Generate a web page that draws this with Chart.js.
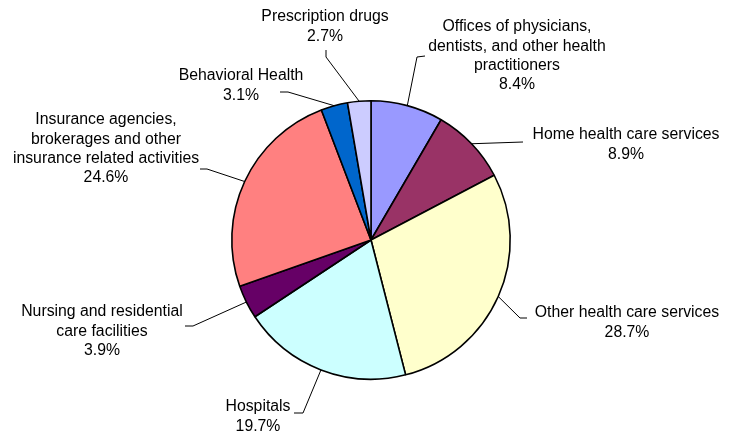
<!DOCTYPE html>
<html>
<head>
<meta charset="utf-8">
<script src="https://cdn.jsdelivr.net/npm/chart.js@4/dist/chart.umd.min.js"></script>
<style>
  html, body { margin: 0; padding: 0; background: #fff; }
  #wrap { width: 733px; height: 437px; }
</style>
</head>
<body>
<div id="wrap"><canvas id="spendPie" width="733" height="437"></canvas></div>
<script>
const categories = [
  ["Offices of physicians,", "dentists, and other health", "practitioners"],
  ["Home health care services"],
  ["Other health care services"],
  ["Hospitals"],
  ["Nursing and residential", "care facilities"],
  ["Insurance agencies,", "brokerages and other", "insurance related activities"],
  ["Behavioral Health"],
  ["Prescription drugs"],
];
const shares = [8.4, 8.9, 28.7, 19.7, 3.9, 24.6, 3.1, 2.7];
const sliceColors = ["#9999ff", "#993366", "#ffffcc", "#ccffff", "#660066", "#ff8080", "#0066cc", "#ccccff"];

// where each label block sits (center x, first line y) and the elbow of its leader
const labelSpots = [
  { x: 517, y: 27, elbow: [[425, 56], [417, 57]] },
  { x: 626, y: 135, elbow: [[523, 142]] },
  { x: 627, y: 313, elbow: [[527, 318], [520, 318]] },
  { x: 258, y: 407, elbow: [[294, 413], [303, 413]] },
  { x: 102, y: 312, elbow: [[185, 326], [193, 326]] },
  { x: 106, y: 120, elbow: [[200, 169], [207, 169]] },
  { x: 241, y: 76, elbow: [[280, 92], [288, 92]] },
  { x: 325, y: 17, elbow: [[326, 50], [326, 57]] },
];

const lineGap = 19.3;

const calloutPlugin = {
  id: "callouts",
  afterDraw(chart) {
    const ctx = chart.ctx;
    const arcs = chart.getDatasetMeta(0).data;
    ctx.save();
    ctx.font = '15.8px "Liberation Sans", Arial, sans-serif';
    ctx.fillStyle = "#000";
    ctx.textAlign = "center";
    ctx.textBaseline = "middle";
    arcs.forEach((arc, i) => {
      const spot = labelSpots[i];
      const lines = categories[i].concat(shares[i].toFixed(1) + "%");
      lines.forEach((t, k) => ctx.fillText(t, spot.x, spot.y + k * lineGap));

      const mid = (arc.startAngle + arc.endAngle) / 2;
      const ex = arc.x + Math.cos(mid) * arc.outerRadius;
      const ey = arc.y + Math.sin(mid) * arc.outerRadius;
      ctx.beginPath();
      ctx.strokeStyle = "#000";
      ctx.lineWidth = 1;
      spot.elbow.forEach(([px, py], k) => (k ? ctx.lineTo(px, py) : ctx.moveTo(px, py)));
      ctx.lineTo(ex, ey);
      ctx.stroke();
    });
    ctx.restore();
  },
};

new Chart(document.getElementById("spendPie"), {
  type: "pie",
  data: {
    labels: categories.map((c) => c.join(" ")),
    datasets: [
      {
        data: shares,
        backgroundColor: sliceColors,
        borderColor: "#000",
        borderWidth: 1.6,
      },
    ],
  },
  options: {
    responsive: false,
    animation: false,
    layout: { padding: { top: 100, bottom: 57, left: 231, right: 222 } },
    plugins: { legend: { display: false }, tooltip: { enabled: false } },
  },
  plugins: [calloutPlugin],
});
</script>
</body>
</html>
